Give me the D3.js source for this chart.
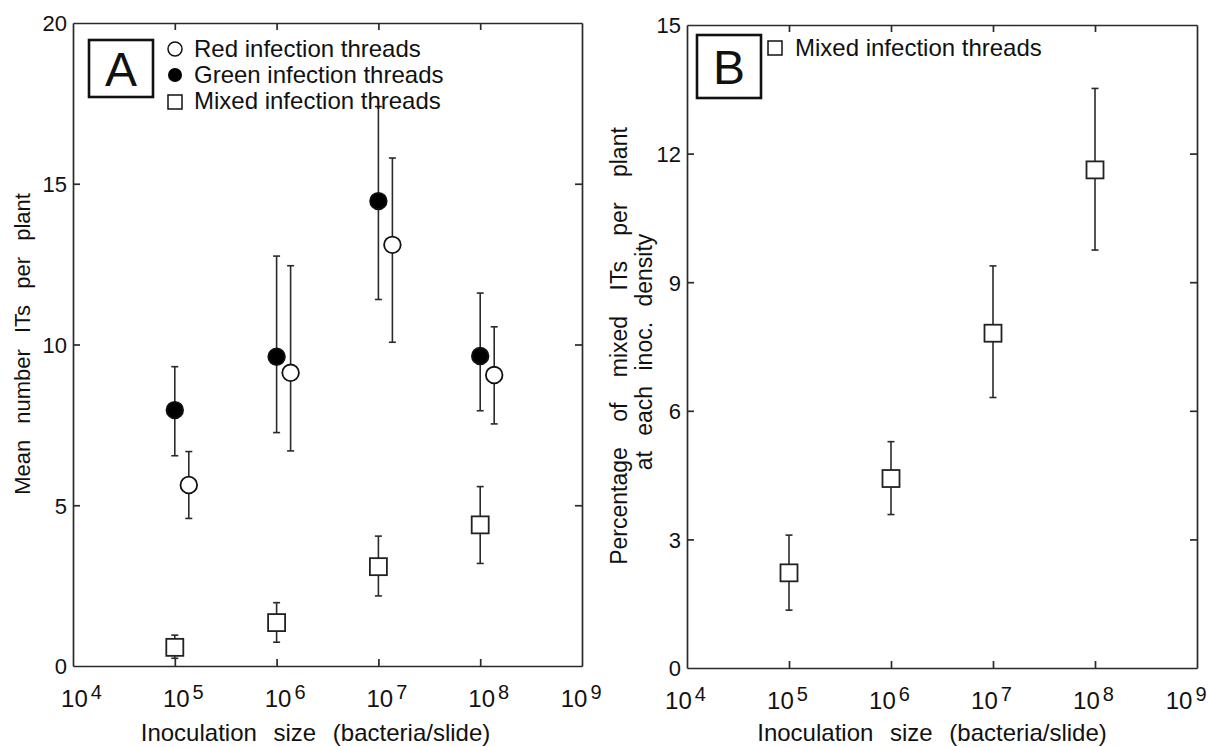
<!DOCTYPE html>
<html>
<head>
<meta charset="utf-8">
<script src="https://cdn.jsdelivr.net/npm/d3@7"></script>
<style>
  body { margin: 0; background: #fff; }
  text { font-family: "Liberation Sans", Arial, sans-serif; fill: #111; }
</style>
</head>
<body>
<svg id="chart" width="1208" height="747"></svg>
<script>
// inoculation densities (bacteria/slide)
var doses = [1e5, 1e6, 1e7, 1e8]
var xTicks = [1e4, 1e5, 1e6, 1e7, 1e8, 1e9]

// panel A: mean number of ITs per plant
var greenMean = [7.96, 9.62, 14.46, 9.64]
var greenLo   = [6.54, 7.26, 11.40, 7.94]
var greenHi   = [9.31, 12.75, 17.40, 11.60]
var redMean   = [5.63, 9.12, 13.10, 9.05]
var redLo     = [4.59, 6.69, 10.07, 7.53]
var redHi     = [6.67, 12.45, 15.80, 10.55]
var mixMean   = [0.58, 1.35, 3.09, 4.39]
var mixLo     = [0.24, 0.74, 2.18, 3.19]
var mixHi     = [0.96, 1.97, 4.04, 5.58]
var yTicksA   = [0, 5, 10, 15, 20]

// panel B: percentage of mixed ITs per plant
var pctMean = [2.22, 4.42, 7.81, 11.62]
var pctLo   = [1.35, 3.58, 6.31, 9.75]
var pctHi   = [3.10, 5.28, 9.38, 13.52]
var yTicksB = [0, 3, 6, 9, 12, 15]

var svg = d3.select('#chart')

function drawPanel(p) {
  var x = d3.scaleLog().domain([1e4, 1e9]).range([p.left, p.right])
  var y = d3.scaleLinear().domain([0, p.yMax]).range([p.bottom, p.top])
  var g = svg.append('g')

  // axes on all four sides, ticks pointing inward
  var bottom = g.append('g').attr('transform', `translate(0,${p.bottom})`)
    .call(d3.axisBottom(x).tickValues(xTicks).tickSizeInner(-7).tickSizeOuter(0).tickFormat(''))
  g.append('g').attr('transform', `translate(0,${p.top})`)
    .call(d3.axisTop(x).tickValues(xTicks).tickSizeInner(-7).tickSizeOuter(0).tickFormat(''))
  g.append('g').attr('transform', `translate(${p.left},0)`)
    .call(d3.axisLeft(y).tickValues(p.yTicks).tickSizeInner(-7).tickSizeOuter(0).tickPadding(6))
    .selectAll('text').style('font-size', '22px').attr('dy', '0.36em')
  g.append('g').attr('transform', `translate(${p.right},0)`)
    .call(d3.axisRight(y).tickValues(p.yTicks).tickSizeInner(-7).tickSizeOuter(0).tickFormat(''))
  g.selectAll('.domain, .tick line').attr('stroke', '#2a2a2a').attr('stroke-width', 1.7)
  g.selectAll('.tick').filter(function (d) { return d === 1e4 || d === 1e9 || d === 0 || d === p.yMax })
    .select('line').remove()

  // 10^n labels, roughly centred on the tick, kept inside the page
  bottom.selectAll('.tick').each(function (d) {
    var t = d3.select(this).append('text').attr('y', 41)
      .attr('text-anchor', 'start').style('font-size', '24px')
    t.append('tspan').text('10')
    t.append('tspan').attr('dx', 3).attr('dy', -8).style('font-size', '20px')
      .text(Math.round(Math.log10(d)))
    var w = t.node().getComputedTextLength() + 3
    var start = -w / 2 + p.labelShift
    var maxEnd = p.labelMaxX - x(d)
    if (start + w > maxEnd) start = maxEnd - w
    t.attr('x', start)
  })

  g.append('text')
    .attr('x', (p.left + p.right) / 2 + p.titleShift).attr('y', 741)
    .attr('text-anchor', 'middle').style('font-size', '24px').style('word-spacing', '10px')
    .text('Inoculation size (bacteria/slide)')

  p.yLabel.forEach(function (line, i) {
    g.append('text')
      .attr('transform', `translate(${p.yLabelX + i * 25},${p.yLabelMid[i]}) rotate(-90)`)
      .attr('text-anchor', 'middle').style('font-size', p.yLabelSize + 'px').style('word-spacing', p.yLabelWs[i] + 'px')
      .text(line)
  })

  // panel letter box
  g.append('rect').attr('x', p.box[0]).attr('y', p.box[1]).attr('width', p.box[2]).attr('height', p.box[3])
    .attr('fill', 'none').attr('stroke', '#111').attr('stroke-width', 2.6)
  g.append('text').attr('x', p.box[0] + p.box[2] / 2).attr('y', p.box[1] + p.box[3] / 2 + 17)
    .attr('text-anchor', 'middle').style('font-size', '48px').text(p.letter)

  return { x: x, y: y, g: g }
}

function errorBars(pn, mean, lo, hi, dx) {
  var rows = mean.map(function (m, i) { return { d: doses[i], m: m, lo: lo[i], hi: hi[i] } })
  var eb = pn.g.append('g').attr('stroke', '#2a2a2a').attr('stroke-width', 1.6)
  eb.selectAll('line.v').data(rows).join('line')
    .attr('x1', r => pn.x(r.d) + dx).attr('x2', r => pn.x(r.d) + dx)
    .attr('y1', r => pn.y(r.lo)).attr('y2', r => pn.y(r.hi))
  ;['lo', 'hi'].forEach(function (k) {
    eb.selectAll('line.' + k).data(rows).join('line')
      .attr('x1', r => pn.x(r.d) + dx - 3.5).attr('x2', r => pn.x(r.d) + dx + 3.5)
      .attr('y1', r => pn.y(r[k])).attr('y2', r => pn.y(r[k]))
  })
  return rows
}

function circles(pn, rows, dx, fill) {
  pn.g.append('g').selectAll('circle').data(rows).join('circle')
    .attr('cx', r => pn.x(r.d) + dx).attr('cy', r => pn.y(r.m)).attr('r', 8.3)
    .attr('fill', fill).attr('stroke', '#111').attr('stroke-width', 1.8)
}

function squares(pn, rows) {
  pn.g.append('g').selectAll('rect').data(rows).join('rect')
    .attr('x', r => pn.x(r.d) - 8.5).attr('y', r => pn.y(r.m) - 8.5)
    .attr('width', 17).attr('height', 17)
    .attr('fill', '#fff').attr('stroke', '#222').attr('stroke-width', 1.8)
}

// ---- panel A
var A = drawPanel({
  left: 73, right: 582, top: 23, bottom: 666, yMax: 20, yTicks: yTicksA,
  yLabel: ['Mean number ITs per plant'], yLabelX: 30, yLabelMid: [344], yLabelWs: [10], yLabelSize: 22,
  labelShift: 8, labelMaxX: 601, titleShift: -12,
  box: [89, 40, 64, 57], letter: 'A'
})
var dodge = 14
circles(A, errorBars(A, greenMean, greenLo, greenHi, 0), 0, '#000')
circles(A, errorBars(A, redMean, redLo, redHi, dodge), dodge, '#fff')
squares(A, errorBars(A, mixMean, mixLo, mixHi, 0))

var legA = A.g.append('g').attr('transform', 'translate(175,49)')
legA.append('circle').attr('cx', 0).attr('cy', 0).attr('r', 7).attr('fill', '#fff').attr('stroke', '#111').attr('stroke-width', 1.5)
legA.append('circle').attr('cx', 0).attr('cy', 26).attr('r', 7).attr('fill', '#000')
legA.append('rect').attr('x', -7).attr('y', 46).attr('width', 14).attr('height', 14).attr('fill', '#fff').attr('stroke', '#111').attr('stroke-width', 1.5)
;['Red infection threads', 'Green infection threads', 'Mixed infection threads'].forEach(function (s, i) {
  legA.append('text').attr('x', 19).attr('y', i * 26 + 8).style('font-size', '24px').text(s)
})

// ---- panel B
var B = drawPanel({
  left: 687, right: 1197, top: 25, bottom: 668, yMax: 15, yTicks: yTicksB,
  yLabel: ['Percentage of mixed ITs per plant', 'at each inoc. density'], yLabelX: 627,
  yLabelMid: [346, 352], yLabelWs: [19, 9], yLabelSize: 23,
  labelShift: -2, labelMaxX: 1206, titleShift: -10,
  box: [697, 35, 64, 63], letter: 'B'
})
squares(B, errorBars(B, pctMean, pctLo, pctHi, 0))

var legB = B.g.append('g').attr('transform', 'translate(775,48)')
legB.append('rect').attr('x', -7).attr('y', -7).attr('width', 14).attr('height', 14).attr('fill', '#fff').attr('stroke', '#111').attr('stroke-width', 1.5)
legB.append('text').attr('x', 20).attr('y', 8).style('font-size', '24px').text('Mixed infection threads')
</script>
</body>
</html>
